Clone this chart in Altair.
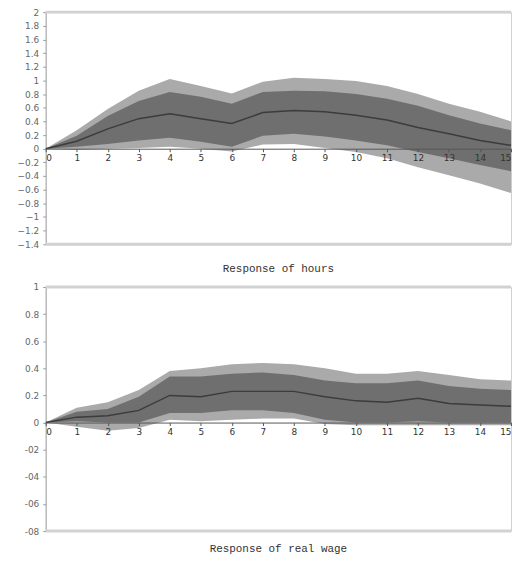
import altair as alt
import pandas as pd

# ---- data ----
horizon = list(range(16))

hours_median = [0, 0.11, 0.29, 0.44, 0.51, 0.44, 0.37, 0.53, 0.56, 0.54, 0.49, 0.42, 0.31, 0.22, 0.12, 0.05]
hours_inner_hi = [0, 0.19, 0.48, 0.70, 0.83, 0.76, 0.66, 0.83, 0.85, 0.84, 0.80, 0.73, 0.63, 0.49, 0.37, 0.27]
hours_inner_lo = [0, 0.03, 0.07, 0.12, 0.16, 0.10, 0.03, 0.19, 0.22, 0.18, 0.12, 0.05, -0.05, -0.14, -0.24, -0.33]
hours_outer_hi = [0, 0.27, 0.58, 0.85, 1.02, 0.92, 0.81, 0.98, 1.04, 1.02, 0.99, 0.92, 0.80, 0.66, 0.54, 0.40]
hours_outer_lo = [0, -0.02, 0.0, 0.01, 0.03, 0.0, -0.04, 0.06, 0.07, 0.01, -0.05, -0.14, -0.27, -0.39, -0.51, -0.65]

wage_median = [0, 0.04, 0.05, 0.09, 0.20, 0.19, 0.23, 0.23, 0.23, 0.19, 0.16, 0.15, 0.18, 0.14, 0.13, 0.12]
wage_inner_hi = [0, 0.08, 0.10, 0.19, 0.34, 0.34, 0.36, 0.37, 0.35, 0.31, 0.29, 0.29, 0.31, 0.27, 0.25, 0.24]
wage_inner_lo = [0, 0.01, 0.0, 0.0, 0.07, 0.07, 0.09, 0.09, 0.07, 0.02, 0.0, 0.0, 0.01, 0.0, 0.0, 0.0]
wage_outer_hi = [0, 0.11, 0.15, 0.24, 0.38, 0.40, 0.43, 0.44, 0.43, 0.40, 0.36, 0.36, 0.38, 0.35, 0.32, 0.31]
wage_outer_lo = [0, -0.03, -0.06, -0.04, 0.02, 0.01, 0.02, 0.03, 0.03, -0.01, -0.02, -0.02, -0.02, -0.02, -0.02, -0.02]

hours_ticks = [2, 1.8, 1.6, 1.4, 1.2, 1, 0.8, 0.6, 0.4, 0.2, 0, -0.2, -0.4, -0.6, -0.8, -1, -1.2, -1.4]
wage_ticks = [1, 0.8, 0.6, 0.4, 0.2, 0, -0.2, -0.4, -0.6, -0.8]
x_ticks = list(range(16))

OUTER = "#aaaaaa"
INNER = "#6f6f6f"
MED = "#3c3c3c"
FRAME = "#d2d2d2"
W = 469


def panel(med, ihi, ilo, ohi, olo, ymin, ymax, yticks, height, title, label_expr, title_offset):
    df = pd.DataFrame({"h": horizon, "med": med, "ihi": ihi, "ilo": ilo, "ohi": ohi, "olo": olo})
    yscale = alt.Scale(domain=[ymin, ymax], nice=False, zero=False)
    xscale = alt.Scale(domain=[0, 15], nice=False)
    zero_off = -(height * (0 - ymin) / (ymax - ymin))
    base = alt.Chart(df)
    outer = base.mark_area(color=OUTER).encode(
        x=alt.X("h:Q", scale=xscale,
                axis=alt.Axis(values=x_ticks, tickCount=100, format="d", title=None, offset=zero_off,
                              grid=False, labelFontSize=9, labelColor="#333", labelFont="DejaVu Sans",
                              tickSize=3, tickColor="#555", domainColor="#555", zindex=1,
                              labelPadding=2, labelFlush=True, labelOverlap=False)),
        y=alt.Y("olo:Q", scale=yscale,
                axis=alt.Axis(values=yticks, tickCount=100, title=None, grid=False, labelExpr=label_expr,
                              labelFontSize=9, labelColor="#666", labelFont="DejaVu Sans",
                              tickSize=3, tickColor="#999", domainColor="#aaaaaa",
                              labelPadding=4, labelOverlap=False, labelFlush=False)),
        y2="ohi:Q",
    )
    inner = base.mark_area(color=INNER).encode(x="h:Q", y="ilo:Q", y2="ihi:Q")
    line = base.mark_line(color=MED, strokeWidth=1.5).encode(x="h:Q", y="med:Q")
    frame_top = alt.Chart(pd.DataFrame({"v": [ymax]})).mark_rule(color=FRAME, strokeWidth=3).encode(y="v:Q")
    frame_bot = alt.Chart(pd.DataFrame({"v": [ymin]})).mark_rule(color=FRAME, strokeWidth=3).encode(y="v:Q")
    return alt.layer(outer, inner, line, frame_top, frame_bot).properties(
        width=W, height=height,
        title=alt.TitleParams(title, orient="bottom", font="Liberation Mono", fontSize=11,
                              fontWeight="normal", color="#333", offset=title_offset),
    )


top = panel(hours_median, hours_inner_hi, hours_inner_lo, hours_outer_hi, hours_outer_lo,
            -1.4, 2, hours_ticks, 234, "Response of hours",
            "format(datum.value, '.1~f')", 14)
bottom = panel(wage_median, wage_inner_hi, wage_inner_lo, wage_outer_hi, wage_outer_lo,
               -0.8, 1, wage_ticks, 246, "Response of real wage",
               "datum.value < 0 ? '-0' + format(-datum.value * 10, '.0f') : format(datum.value, '.1~f')", 7)

chart = alt.vconcat(top, bottom, spacing=7).properties(
    padding={"left": 8, "top": -3, "right": 0, "bottom": 0},
    background="white",
).configure_view(stroke="#cfcfcf", strokeWidth=1)

chart.save("out.html", embed_options={"renderer": "svg", "actions": False})
